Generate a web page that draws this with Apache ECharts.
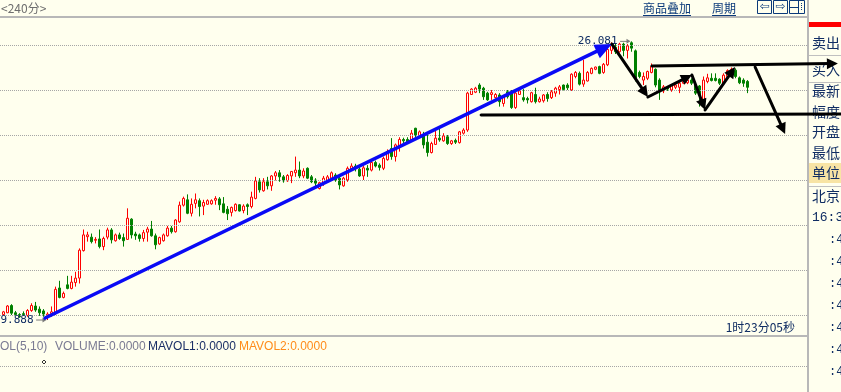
<!DOCTYPE html>
<html><head><meta charset="utf-8">
<script src="https://cdn.jsdelivr.net/npm/echarts@6/dist/echarts.min.js"></script>
<style>html,body{margin:0;padding:0;background:#FFFFEE;overflow:hidden}#c{width:841px;height:392px}</style>
</head><body><div id="c"></div>
<script>
// candles: [open, close, low, high]
const kData = [
[20.01,20.07,19.99,20.09],[20.05,20.20,20.04,20.22],[20.21,20.04,20.00,20.24],[20.05,20.01,19.99,20.09],
[20.01,19.96,19.94,20.04],[20.03,20.01,19.98,20.08],[19.99,20.10,19.96,20.13],[20.10,20.21,20.07,20.26],
[20.20,20.11,20.07,20.29],[20.13,20.05,19.98,20.19],[20.09,20.02,19.96,20.13],[19.96,20.02,19.888,20.06],
[20.03,20.07,19.96,20.19],[20.05,20.57,20.00,20.63],[20.60,20.39,20.37,20.76],[20.39,20.48,20.37,20.52],
[20.67,20.59,20.57,20.87],[20.59,20.73,20.57,20.87],[20.72,20.82,20.63,20.96],[20.82,21.44,20.70,21.48],
[21.43,21.78,21.41,21.90],[21.74,21.78,21.63,21.85],[21.73,21.63,21.59,21.81],[21.66,21.68,21.59,21.73],
[21.69,21.52,21.48,21.90],[21.52,21.70,21.44,21.74],[21.73,21.89,21.68,21.94],[21.89,21.67,21.59,21.93],
[21.65,21.78,21.63,21.81],[21.78,21.70,21.67,21.83],[21.72,21.65,21.52,21.81],[21.68,22.15,21.67,22.37],
[22.13,21.78,21.70,22.15],[21.80,21.76,21.67,21.85],[21.78,21.70,21.63,21.81],[21.70,21.83,21.63,21.89],
[21.84,21.91,21.63,21.96],[21.91,21.76,21.74,22.09],[21.76,21.56,21.46,21.81],[21.58,21.72,21.56,21.74],
[21.65,21.78,21.63,21.81],[21.76,21.93,21.74,21.98],[21.93,21.85,21.81,21.98],[21.85,22.11,21.83,22.13],
[22.07,22.44,22.05,22.52],[22.44,22.59,22.41,22.63],[22.56,22.26,22.24,22.68],[22.26,22.46,22.19,22.59],
[22.48,22.56,22.37,22.70],[22.54,22.41,22.19,22.59],[22.42,22.50,22.22,22.56],[22.46,22.54,22.45,22.57],
[22.47,22.54,22.45,22.57],[22.55,22.59,22.45,22.64],[22.58,22.45,22.33,22.62],[22.47,22.28,22.26,22.62],
[22.35,22.25,22.11,22.42],[22.28,22.39,22.19,22.41],[22.32,22.46,22.30,22.48],[22.45,22.31,22.30,22.46],
[22.32,22.42,22.26,22.46],[22.45,22.41,22.22,22.48],[22.41,22.62,22.37,22.74],[22.59,22.98,22.57,23.07],
[22.96,22.78,22.72,23.04],[22.76,22.96,22.74,23.04],[22.96,22.87,22.79,23.07],[22.87,23.09,22.76,23.11],
[23.09,23.16,22.99,23.20],[23.16,23.07,22.96,23.22],[23.07,22.98,22.94,23.11],[22.98,23.10,22.96,23.13],
[23.09,23.19,22.93,23.20],[23.16,23.22,23.07,23.52],[23.22,23.09,23.04,23.41],[23.09,23.20,23.04,23.26],
[23.26,23.04,23.02,23.28],[23.07,22.96,22.93,23.11],[23.00,22.93,22.85,23.04],[22.81,22.94,22.79,22.96],
[22.93,23.04,22.87,23.09],[22.96,23.07,22.94,23.11],[23.04,23.16,23.00,23.19],[23.11,23.00,22.96,23.15],
[23.04,22.89,22.79,23.11],[22.87,23.04,22.85,23.07],[23.00,23.26,22.96,23.30],[23.24,23.31,23.21,23.37],
[23.31,23.28,23.19,23.36],[23.24,23.09,23.07,23.30],[23.09,23.27,23.00,23.31],[23.26,23.22,23.07,23.33],
[23.22,23.39,23.19,23.41],[23.39,23.31,23.28,23.43],[23.33,23.28,23.21,23.37],[23.26,23.48,23.22,23.52],
[23.45,23.63,23.43,23.68],[23.70,23.52,23.45,23.93],[23.52,23.78,23.41,23.81],[23.76,23.90,23.63,23.95],
[23.90,23.87,23.82,23.94],[23.90,23.85,23.82,23.95],[23.87,24.04,23.85,24.11],[24.15,24.00,23.89,24.16],
[23.96,24.07,23.93,24.10],[24.01,23.78,23.70,24.07],[23.84,23.61,23.52,24.00],[23.61,23.81,23.59,23.85],
[23.79,23.93,23.78,24.13],[23.93,23.89,23.85,24.18],[23.87,23.98,23.85,24.04],[23.96,23.81,23.78,24.00],
[23.81,23.87,23.78,23.89],[23.88,23.84,23.80,23.92],[23.83,24.07,23.81,24.09],[24.04,24.11,24.01,24.15],
[24.11,24.93,24.07,24.96],[24.90,25.02,24.89,25.04],[24.95,25.04,24.93,25.07],[25.11,25.02,24.93,25.15],
[25.04,24.85,24.78,25.07],[24.93,24.78,24.76,24.96],[24.90,24.94,24.78,25.00],[24.83,24.90,24.81,24.93],
[24.89,24.74,24.63,24.93],[24.70,24.85,24.63,24.89],[24.96,24.85,24.81,25.00],[24.95,24.61,24.58,25.00],
[24.61,24.93,24.58,24.96],[24.90,24.98,24.89,25.00],[24.83,24.78,24.74,25.02],[24.81,24.78,24.70,24.85],
[24.74,24.94,24.72,24.96],[24.90,24.74,24.70,25.05],[24.74,24.80,24.72,24.85],[24.76,24.89,24.72,24.91],
[24.90,24.81,24.74,24.95],[24.83,24.96,24.80,25.00],[24.93,25.04,24.85,25.07],[25.01,25.07,24.90,25.11],
[25.11,25.01,24.99,25.12],[25.11,25.05,25.00,25.15],[25.00,25.35,24.98,25.37],[25.30,25.39,25.26,25.42],
[25.37,25.13,25.10,25.41],[25.13,25.22,25.07,25.67],[25.20,25.39,25.19,25.42],[25.37,25.48,25.35,25.50],
[25.46,25.51,25.44,25.52],[25.52,25.37,25.35,25.54],[25.39,25.57,25.36,25.60],[25.56,25.90,25.53,25.95],
[25.88,26.02,25.80,26.06],[25.95,25.85,25.80,26.04],[25.85,26.02,25.83,26.05],[26.02,25.88,25.75,26.05],
[25.88,25.98,25.70,26.02],[26.05,25.93,25.85,26.081],[25.87,25.26,25.19,25.90],[25.39,25.30,25.26,25.43],
[25.22,25.30,25.11,25.39],[25.26,25.41,25.22,25.43],[25.39,25.52,25.37,25.59],[25.46,25.11,25.06,25.48],
[25.22,24.96,24.78,25.26],[24.98,25.07,24.93,25.11],[25.06,25.02,24.98,25.09],[25.00,25.11,24.96,25.13],
[25.06,25.11,25.02,25.13],[25.06,25.15,24.93,25.19],[25.15,25.19,25.13,25.21],[25.16,25.22,25.13,25.24],
[25.22,25.15,25.11,25.26],[25.11,24.93,24.89,25.15],[25.09,24.89,24.63,25.11],[24.74,25.22,24.67,25.30],
[25.19,25.27,25.15,25.36],[25.26,25.21,25.19,25.37],[25.26,25.21,25.19,25.37],[25.24,25.15,25.11,25.26],
[25.15,25.33,25.11,25.37],[25.30,25.43,25.27,25.46],[25.33,25.46,25.30,25.50],[25.44,25.30,25.26,25.48],
[25.27,25.16,25.13,25.30],[25.22,25.15,25.07,25.26],[25.19,25.06,24.93,25.22]
];
const priceLevels = [20, 21, 22, 23, 24, 25, 26];
const xMin = -0.875, xMax = 201.125;
const yMin = 19.533, yMax = 26.622;
const highMark = [157, 26.081], highText = '26.081';
const lowMark = [11, 19.888], lowText = '19.888';
// hand-drawn annotations in data coordinates [index, price]
const blueTrend = [[10.4, 19.933], [152.1, 26.022]];
const zigzag = [[152.1, 26.02], [161.1, 24.844], [172.1, 25.333], [175.4, 24.556], [182.9, 25.511]];
const upperLine = [[162.1, 25.533], [208.6, 25.589]];
const lowerLine = [[119.4, 24.444], [209.4, 24.467]];
const downArrow = [[187.9, 25.511], [195.4, 24.022]];
const panelLabels = ['卖出', '买入', '最新', '幅度', '开盘', '最低', '单位', '北京'];
const panelLabelY = [43, 70, 91, 112, 132, 153, 173, 196];
const panelTime = '16:3';
const tickRows = [':4', ':4', ':4', ':4', ':4', ':4', ':4'];
const volParts = [['OL(5,10)', '#7A7A92'], ['VOLUME:0.0000', '#7A7A92'], ['MAVOL1:0.0000', '#1B2F66'], ['MAVOL2:0.0000', '#FF8C1A']];
const volPartX = [0, 55, 148, 239];
const timerText = '1时23分05秒';

const BG = '#FFFFEE', NAVY = '#102D63', CJK = '"Noto Sans CJK SC"';
const chart = echarts.init(document.getElementById('c'), null, {renderer: 'canvas'});
chart.setOption({
  animation: false,
  backgroundColor: BG,
  grid: {left: 0, right: 33, top: 17, bottom: 56},
  xAxis: {type: 'value', min: xMin, max: xMax, show: false},
  yAxis: {type: 'value', min: yMin, max: yMax, show: false},
  series: [
    {type: 'line', data: [], z: 1, silent: true,
     markLine: {silent: true, symbol: 'none', label: {show: false}, animation: false,
       lineStyle: {color: '#A6A6A6', type: [1, 1], width: 1},
       data: priceLevels.map(v => ({yAxis: v}))}},
    {type: 'candlestick', z: 2, barWidth: 2,
     data: kData.map((r, i) => [i, r[0], r[1], r[2], r[3]]),
     itemStyle: {color: BG, color0: '#008000', borderColor: '#FF0000', borderColor0: '#008000', borderWidth: 1}}
  ]
});

function P(d) { return chart.convertToPixel({gridIndex: 0}, d); }
const els = [];
function txt(text, x, y, size, color, family, align, z) {
  els.push({type: 'text', z: z || 60, silent: true,
    style: {text: text, x: x, y: y, fill: color, fontSize: size, fontFamily: family,
      align: align || 'left', textAlign: align || 'left', verticalAlign: 'middle', textVerticalAlign: 'middle'}});
}
function ln(x1, y1, x2, y2, color, w, z, dash) {
  els.push({type: 'line', z: z || 55, silent: true, shape: {x1, y1, x2, y2},
    style: {stroke: color, lineWidth: w, lineDash: dash || null}});
}
function rect(x, y, w, h, fill, stroke, z) {
  els.push({type: 'rect', z: z || 50, silent: true, shape: {x, y, width: w, height: h},
    style: {fill: fill || null, stroke: stroke || null, lineWidth: 1}});
}
function seg(a, b, color, w, headLen, headHalf, z) {
  let end = b;
  const dx = b[0] - a[0], dy = b[1] - a[1], L = Math.hypot(dx, dy), ux = dx / L, uy = dy / L;
  if (headLen) end = [b[0] - ux * headLen * 0.7, b[1] - uy * headLen * 0.7];
  els.push({type: 'line', z: z, silent: true, shape: {x1: a[0], y1: a[1], x2: end[0], y2: end[1]},
    style: {stroke: color, lineWidth: w, lineCap: 'round'}});
  if (headLen) {
    const bx = b[0] - ux * headLen, by = b[1] - uy * headLen;
    els.push({type: 'polygon', z: z + 1, silent: true,
      shape: {points: [[b[0], b[1]], [bx - uy * headHalf, by + ux * headHalf], [bx + uy * headHalf, by - ux * headHalf]]},
      style: {fill: color}});
  }
}

// header
ln(0, 17, 808, 17, '#B8B8B8', 2, 55);
txt('<240分>', 1, 8, 12, '#6E6E6E', CJK);
txt('商品叠加', 643, 8, 12, '#0B3A7A', CJK);
ln(643, 15.5, 691, 15.5, '#0B3A7A', 1);
txt('周期', 712, 8, 12, '#0B3A7A', CJK);
ln(712, 15.5, 736, 15.5, '#0B3A7A', 1);
rect(757.5, 0.5, 14, 13, null, '#0B3A7A', 56);
txt('⇦', 764.5, 7, 12, '#0B3A7A', 'DejaVu Sans', 'center');
rect(773.5, 0.5, 14, 13, null, '#0B3A7A', 56);
txt('⇨', 780.5, 7, 12, '#0B3A7A', 'DejaVu Sans', 'center');
rect(789.5, 0.5, 15, 13, null, '#0B3A7A', 56);
ln(798.5, 1, 798.5, 13, '#0B3A7A', 1, 57);
ln(790, 7.5, 798, 7.5, '#0B3A7A', 1, 57);
ln(801.5, 3, 801.5, 11, '#0B3A7A', 1, 57, [1, 1]);

// bottom volume pane
ln(0, 336, 808, 336, '#B8B8B8', 2, 55);
ln(0, 366.5, 808, 366.5, '#A6A6A6', 1, 55, [1, 1]);
volParts.forEach((p, i) => txt(p[0], volPartX[i], 347, 12, p[1], 'Liberation Sans'));
els.push({type: 'polygon', z: 56, silent: true, shape: {points: [[44, 360], [46, 362], [44, 364], [42, 362]]}, style: {stroke: '#333', fill: null, lineWidth: 1}});
txt(timerText, 795, 327, 12, NAVY, CJK, 'right');

// right panel
rect(808, 0, 33, 392, BG, null, 50);
ln(808, 0, 808, 392, '#B8B8B8', 2, 56);
rect(809, 22, 32, 5, '#FF0000', null, 56);
ln(809, 55.5, 841, 55.5, '#C0C0C0', 1, 56);
ln(809, 82.5, 841, 82.5, '#C0C0C0', 1, 56);
rect(809, 163, 32, 20, '#F8E4A4', null, 56);
ln(809, 186.5, 841, 186.5, '#C0C0C0', 1, 56);
panelLabels.forEach((t, i) => txt(t, 812, panelLabelY[i], 14, NAVY, CJK, 'left', 60));
txt(panelTime, 812, 218, 13, NAVY, 'Liberation Mono', 'left', 60);
tickRows.forEach((t, i) => txt(t, 829, 240 + i * 22, 12, NAVY, 'Liberation Mono', 'left', 60));

// high / low labels
[[highMark, highText], [lowMark, lowText]].forEach(([m, t]) => {
  const p = P(m);
  txt(t, p[0] - 14, p[1], 11, NAVY, 'DejaVu Sans Mono', 'right', 70);
  seg([p[0] - 11, p[1]], [p[0] - 1, p[1]], '#7A7A7A', 1, 4, 2.5, 70);
});

// annotations
seg(P(blueTrend[0]), P(blueTrend[1]), '#0A0AF5', 3.6, 17, 7.5, 80);
for (let k = 0; k < zigzag.length - 1; k++) seg(P(zigzag[k]), P(zigzag[k + 1]), '#000000', 3, 11, 5.5, 82);
seg(P(upperLine[0]), P(upperLine[1]), '#000000', 3, 11, 5.5, 82);
seg(P(lowerLine[0]), P(lowerLine[1]), '#000000', 3, 0, 0, 82);
seg(P(downArrow[0]), P(downArrow[1]), '#000000', 3, 11, 5.5, 82);

chart.setOption({graphic: {elements: els}});
</script></body></html>
